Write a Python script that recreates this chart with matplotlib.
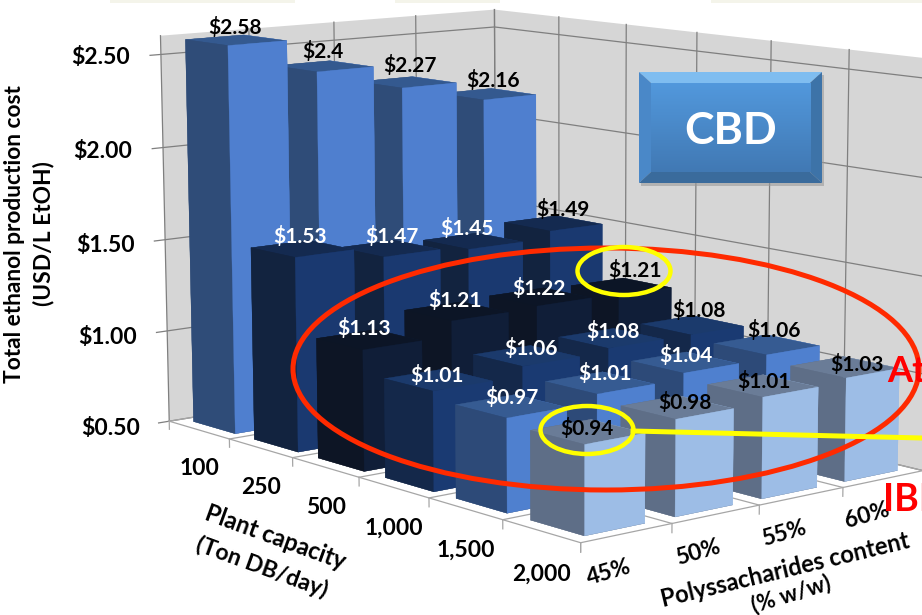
import numpy as np
import matplotlib

matplotlib.use("Agg")
import matplotlib.pyplot as plt  # noqa: E402
from matplotlib.colors import LinearSegmentedColormap  # noqa: E402
from matplotlib.patches import Ellipse, Polygon, Rectangle  # noqa: E402
from mpl_toolkits.mplot3d.art3d import Poly3DCollection  # noqa: E402

W_PX, H_PX = 922, 615

capacities = ["100", "250", "500", "1,000", "1,500", "2,000"]
contents = ["45%", "50%", "55%", "60%"]
cost_100 = [2.58, 2.4, 2.27, 2.16]
cost_250 = [1.53, 1.47, 1.45, 1.49]
cost_500 = [1.13, 1.21, 1.22, 1.21]
cost_1000 = [1.01, 1.06, 1.08, 1.08]
cost_1500 = [0.97, 1.01, 1.04, 1.06]
cost_2000 = [0.94, 0.98, 1.01, 1.03]
costs = [cost_100, cost_250, cost_500, cost_1000, cost_1500, cost_2000]
cost_ticks = [0.5, 1.0, 1.5, 2.0, 2.5]
Z_MIN, Z_MAX = 0.5, 2.6

# left, right, top face colour of each capacity row
row_colors = [
    ("#2f4c78", "#4f7fcf", "#34598f"),
    ("#12233f", "#1a3970", "#142a50"),
    ("#0d1525", "#101e38", "#0c1526"),
    ("#14284a", "#1a3a72", "#1b3a6c"),
    ("#2d4a78", "#4f80cf", "#365b92"),
    ("#5e6e87", "#9dbde6", "#6a7c97"),
]

# black labels sit on the pale bars or on the wall
dark_label_rows = (0, 5)
dark_label_col = 3

# the data labels were moved by hand in the original: pixel shift from each bar's top centre
label_shift = [
    [(-1, -13), (0, -15), (3, -17), (6, -14)],
    [(-2, -12), (3, -12), (-6, -13), (10, -14)],
    [(-5, -11), (-1, -11), (-1, -8), (14, -16)],
    [(-1, -4), (5, -7), (2, -7), (7, -15)],
    [(1, -9), (5, -9), (1, -7), (8, -14)],
    [(0, -3), (8, -5), (2, -4), (12, -3)],
]

# view calibration: (column edge, row edge, value) seen at (px, py) in the picture
view_world = np.array([
    (0, 0, 0.5), (0, 1, 0.5), (0, 2, 0.5), (0, 3, 0.5), (0, 4, 0.5), (0, 5, 0.5), (0, 6, 0.5),
    (1, 6, 0.5), (2, 6, 0.5), (3, 6, 0.5),
    (0, 0, 1.5), (0, 0, 2.5), (0, 0, 2.6), (2, 0, 2.6), (3, 0, 2.6), (4, 0, 2.6),
    (2, 0, 2.5), (3, 0, 2.5), (4, 0, 2.5),
    (4, 1, 2.6), (4, 2, 2.6), (4, 3, 2.6), (4, 4, 2.6), (4, 5, 2.6),
    (4, 3, 2.5), (4, 5, 2.5), (4, 1, 2.0), (4, 2, 2.0), (4, 5, 2.0), (4, 5, 1.5),
], dtype=float)
view_pixels = np.array([
    (169, 421), (229, 440), (293, 458), (359, 477), (429, 497), (503, 520), (580, 543),
    (672, 524), (759, 505), (843, 487),
    (166, 239), (161, 54), (160, 35), (334, 23), (416, 15), (494, 9),
    (334, 42), (416, 33), (494, 27),
    (559, 17), (626, 25), (697, 32), (771, 41), (849, 50),
    (697, 51), (849, 69), (559, 123), (626, 133), (848, 166), (846, 262),
], dtype=float)


def fit_camera(world, pixels):
    rows, rhs = [], []
    for (x, y, z), (u, v) in zip(world, pixels):
        rows.append([x, y, z, 1, 0, 0, 0, 0, -u * x, -u * y, -u * z])
        rows.append([0, 0, 0, 0, x, y, z, 1, -v * x, -v * y, -v * z])
        rhs += [u, v]
    p = np.linalg.lstsq(np.array(rows), np.array(rhs), rcond=None)[0]
    return np.append(p, 1.0).reshape(3, 4)


CAM = fit_camera(view_world, view_pixels)


def px(x, y, z):
    h = CAM @ np.array([x, y, z, 1.0])
    return h[0] / h[2], h[1] / h[2]


fig = plt.figure(figsize=(W_PX / 100, H_PX / 100), dpi=100)
plt.rcParams["font.family"] = ["Lato", "DejaVu Sans"]

# mplot3d axes keep a square box, so make it figure-wide and let it overflow
ax = fig.add_axes([0, (H_PX - W_PX) / 2 / H_PX, 1, W_PX / H_PX], projection="3d")
ax.set_axis_off()
ax.computed_zorder = False


def picture_proj():
    vl = ax.viewLim
    sx = vl.width / W_PX
    sy = -vl.height / W_PX
    off_y = vl.y0 + (H_PX + (W_PX - H_PX) / 2) / W_PX * vl.height
    to_view = np.array([[sx, 0, 0, vl.x0], [0, sy, 0, off_y], [0, 0, 1, 0], [0, 0, 0, 1.0]])
    # depth stays negative or Line3D masks the points
    depth = [1.0, -1.0, -0.2, -20.0]
    return to_view @ np.array([CAM[0], CAM[1], depth, CAM[2]])


ax.get_proj = picture_proj

# walls and floor
wall_color = "#d6d6d6"
grid_color = "#7f7f7f"
floor_line = "#a6a6a6"
left_wall = [[(0, 0, Z_MIN), (4, 0, Z_MIN), (4, 0, Z_MAX), (0, 0, Z_MAX)]]
right_wall = [[(4, 0, Z_MIN), (4, 6.2, Z_MIN), (4, 6.2, Z_MAX), (4, 0, Z_MAX)]]
for verts in (left_wall, right_wall):
    ax.add_collection3d(Poly3DCollection(verts, facecolors=wall_color, edgecolors="none", zorder=1))

for tick in cost_ticks:
    ax.plot([-0.12, 0, 4, 4], [0, 0, 0, 6.2], [tick] * 4, color=grid_color, lw=0.9, zorder=2)
for col in range(5):
    ax.plot([col, col], [0, 0], [Z_MIN, Z_MAX], color=grid_color, lw=0.9, zorder=2)
for row in range(7):
    ax.plot([4, 4], [row, row], [Z_MIN, Z_MAX], color=grid_color, lw=0.9, zorder=2)
    ax.plot([0, 4], [row, row], [Z_MIN, Z_MIN], color=floor_line, lw=0.9, zorder=2)
    ax.plot([0, 0], [row, row], [Z_MIN, Z_MIN - 0.045], color=floor_line, lw=0.9, zorder=2)
for col in range(5):
    ax.plot([col, col], [0, 6], [Z_MIN, Z_MIN], color=floor_line, lw=0.9, zorder=2)
    ax.plot([col, col], [6, 6], [Z_MIN, Z_MIN - 0.045], color=floor_line, lw=0.9, zorder=2)

# bars, back row first and right column first
BAR_X0, BAR_DX = 0.17, 0.66
BAR_Y0, BAR_DY = 0.16, 0.69
for row, values in enumerate(costs):
    left, right, top = row_colors[row]
    # bar3d face order: -z, +z, -y, +y, -x, +x
    faces = [left, top, left, right, left, right]
    for col, value in enumerate(values):
        ax.bar3d(col + BAR_X0, row + BAR_Y0, Z_MIN, BAR_DX, BAR_DY, value - Z_MIN,
                 color=faces, edgecolor=faces, linewidth=0.2, shade=False,
                 zorder=10 + row * 10 - col)

# overlay in picture pixels for the texts and the hand-drawn marks
ov = fig.add_axes([0, 0, 1, 1], zorder=5)
ov.axis("off")
ov.patch.set_alpha(0)

TICK_SIZE = 16.5
for tick in cost_ticks:
    x, y = px(-0.66, 0, tick)
    ov.text(x, y - 2, f"${tick:.2f}", ha="center", va="center", fontsize=TICK_SIZE, fontweight="bold", color="black")
for row, name in enumerate(capacities):
    x, y = px(0, row + 0.5, 0.3)
    ov.text(x, y + 2, name, ha="center", va="center", fontsize=TICK_SIZE, fontweight="bold", color="black")
for col, name in enumerate(contents):
    x, y = px(col + 0.3, 6, 0.32)
    ov.text(x, y - 2, name, ha="center", va="center", rotation=16, fontsize=TICK_SIZE, fontweight="bold", color="black")

for row, values in enumerate(costs):
    for col, value in enumerate(values):
        x, y = px(col + 0.5, row + 0.5, value)
        dx, dy = label_shift[row][col]
        dark = row in dark_label_rows or col == dark_label_col
        ov.text(x + dx, y + dy, f"${value:g}", ha="center", va="center", fontsize=15, fontweight="bold",
                color="black" if dark else "white", zorder=6)

ov.text(15, 234, "Total ethanol production cost", rotation=90, ha="center", va="center", fontsize=16.4, fontweight="bold")
ov.text(44, 234, "(USD/L EtOH)", rotation=90, ha="center", va="center", fontsize=16.4, fontweight="bold")
ov.text(275, 537, "Plant capacity", rotation=-20, ha="center", va="center", fontsize=17, fontweight="bold")
ov.text(262, 567, "(Ton DB/day)", rotation=-20, ha="center", va="center", fontsize=16.6, fontweight="bold")
ov.text(785, 570, "Polyssacharides content", rotation=13.5, ha="center", va="center", fontsize=17, fontweight="bold")
ov.text(791, 594, "(% w/w)", rotation=17, ha="center", va="center", fontsize=16, fontweight="bold")

# red and yellow call-outs
ov.add_patch(Ellipse((606, 369), 626, 242, fill=False, ec="#ff2a00", lw=3.6, zorder=7))
ov.add_patch(Ellipse((624, 271), 93, 48, fill=False, ec="#ffff00", lw=3.2, zorder=8))
ov.add_patch(Ellipse((587, 430), 93, 48, fill=False, ec="#ffff00", lw=3.2, zorder=8))
ov.plot([633, 922], [431, 438], color="#ffff00", lw=3.6, zorder=8)
ov.text(887, 372, "At", ha="left", va="center", fontsize=26, fontweight="bold", color="#ff0000", zorder=9)
ov.text(883, 500, "IBI", ha="left", va="center", fontsize=27, fontweight="bold", color="#ff0000", zorder=9)

# CBD box with a bevel
bx0, by0, bx1, by1 = 639, 72, 822, 183
ix0, iy0, ix1, iy1 = 651, 83, 810, 172
ov.add_patch(Rectangle((bx0 + 2, by0 + 3), bx1 - bx0, by1 - by0, fc="#9a9a9a", ec="none", alpha=0.6, zorder=9))
ov.add_patch(Polygon([(bx0, by0), (bx1, by0), (ix1, iy0), (ix0, iy0)], fc="#7fbdf0", ec="none", zorder=10))
ov.add_patch(Polygon([(bx0, by0), (ix0, iy0), (ix0, iy1), (bx0, by1)], fc="#4a88c8", ec="none", zorder=10))
ov.add_patch(Polygon([(bx1, by0), (ix1, iy0), (ix1, iy1), (bx1, by1)], fc="#3d73a8", ec="none", zorder=10))
ov.add_patch(Polygon([(bx0, by1), (bx1, by1), (ix1, iy1), (ix0, iy1)], fc="#3a6b9c", ec="none", zorder=10))
gradient = np.linspace(0, 1, 64).reshape(-1, 1)
box_cmap = LinearSegmentedColormap.from_list("box", ["#5298dc", "#4179b4"])
ov.imshow(gradient, extent=(ix0, ix1, iy1, iy0), cmap=box_cmap, aspect="auto", zorder=10)
ov.text(731, 131, "CBD", ha="center", va="center", fontsize=32, fontweight="bold", color="white", zorder=11)

# remains of the slide background along the top edge
for x0, x1 in [(110, 295), (395, 500), (711, 922)]:
    ov.add_patch(Rectangle((x0, 0), x1 - x0, 3, fc="#f4f4ea", ec="none", zorder=3))

ov.set_xlim(0, W_PX)
ov.set_ylim(H_PX, 0)

fig.savefig("out.png", dpi=100)
